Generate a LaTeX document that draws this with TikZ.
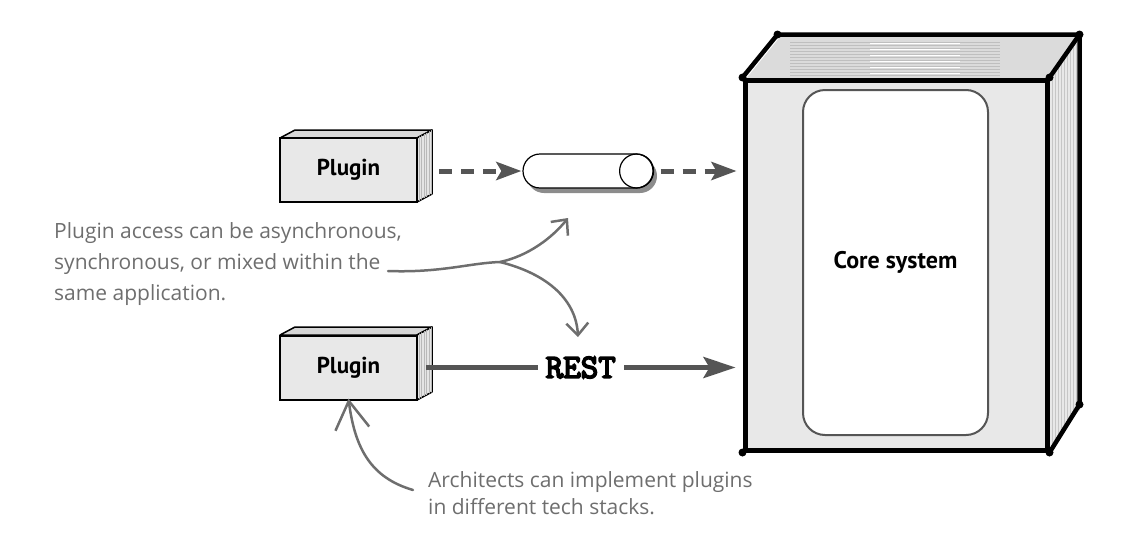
\documentclass[tikz,border=0pt]{standalone}
\usepackage{fontspec}
\setmainfont{Open Sans}
\newfontfamily\plugfont{PT Sans}
\newfontfamily\restfont{Latin Modern Mono}[FakeBold=5]
\usetikzlibrary{arrows.meta,shadows}
\definecolor{anncol}{HTML}{6E6E6E}
\definecolor{arrcol}{HTML}{555555}
\definecolor{facecol}{HTML}{E8E8E8}
\begin{document}
\begin{tikzpicture}[x=1pt,y=-1pt,
  plugbox/.style={draw=black, line width=2pt, fill=facecol, minimum width=137pt, minimum height=64pt, inner sep=0pt,
    font=\plugfont\bfseries\fontsize{23}{26}\selectfont},
  topface/.style={draw=black, line width=1.5pt, fill=gray!32, line join=round},
  sideface/.style={draw=black, line width=1.5pt, fill=gray!20, line join=round},
  dasharrow/.style={draw=arrcol, line width=5pt, dash pattern=on 13pt off 9pt,
    -{Stealth[length=25pt,width=18pt,inset=5pt]}},
  restline/.style={draw=arrcol, line width=5pt, -{Stealth[length=32pt,width=21pt,inset=6pt]}},
  pipebox/.style={draw=black, line width=1.2pt, fill=white, minimum width=130pt, minimum height=34pt, inner sep=0pt,
    rounded corners=17pt, drop shadow={shadow xshift=4pt, shadow yshift=-5pt, opacity=0.45, fill=black}},
  coreface/.style={draw=black, line width=5pt, fill=facecol, minimum width=302pt, minimum height=370pt, inner sep=0pt},
  coreedge/.style={draw=black, line width=4.5pt, line join=round, line cap=round},
  innerbox/.style={draw=arrcol, line width=2pt, fill=white, rounded corners=22pt, minimum width=185pt, minimum height=345pt,
    inner sep=0pt, font=\plugfont\bfseries\fontsize{24}{26}\selectfont},
  anntext/.style={text=anncol, align=left, inner sep=0pt, font=\fontsize{21}{31}\selectfont},
  annline/.style={draw=anncol, line width=2.5pt, line cap=round},
  annarrow/.style={annline, -{Straight Barb[length=12pt,width=22pt,line width=2.5pt]}},
  bigbarb/.style={annline, -{Straight Barb[length=28pt,width=34pt,line width=2.5pt]}},
  cornerdot/.style={fill=black, circle, inner sep=0pt, minimum size=8pt}
]
\useasboundingbox (0,0) rectangle (1132,549);

% ---------- plugin 1 ----------
\filldraw[topface] (280,138) -- ++(15,-8) -- ++(137,0) -- (417,138) -- cycle;
\filldraw[sideface] (417,138) -- ++(15,-8) -- ++(0,64) -- (417,202) -- cycle;
\begin{scope}
\clip (417,138) -- ++(15,-8) -- ++(0,64) -- (417,202) -- cycle;
\foreach \i in {419,421.5,...,432} \draw[gray!55, line width=0.5pt] (\i,120) -- (\i,205);
\end{scope}
\node[plugbox] (p1) at (348.5,170) {Plugin};

% ---------- plugin 2 ----------
\filldraw[topface] (280,335) -- ++(15,-8) -- ++(137,0) -- (417,335) -- cycle;
\filldraw[sideface] (417,335) -- ++(15,-8) -- ++(0,65) -- (417,400) -- cycle;
\begin{scope}
\clip (417,335) -- ++(15,-8) -- ++(0,65) -- (417,400) -- cycle;
\foreach \i in {419,421.5,...,432} \draw[gray!55, line width=0.5pt] (\i,320) -- (\i,405);
\end{scope}
\node[plugbox] (p2) at (348.5,367.5) {Plugin};

% ---------- pipe ----------
\node[pipebox] (pipe) at (588,171) {};
\draw[line width=1.2pt] ([xshift=-17pt]pipe.east) circle[radius=17];

% ---------- core system ----------
\filldraw[fill=gray!28, draw=none] (745,80) -- (780,37) -- (1082,37) -- (1047,80) -- cycle;
\begin{scope}
\clip (745,80) -- (780,37) -- (1082,37) -- (1047,80) -- cycle;
\foreach \j in {42,45,...,78} \draw[gray!50, line width=0.6pt] (790,\j) -- (1000,\j);
\foreach \j in {43.5,49.5,...,78} \draw[white, line width=0.8pt] (870,\j) -- (960,\j);
\end{scope}
\filldraw[fill=gray!18, draw=none] (1047,80) -- (1082,37) -- (1082,407) -- (1047,450) -- cycle;
\begin{scope}
\clip (1047,80) -- (1082,37) -- (1082,407) -- (1047,450) -- cycle;
\foreach \i in {1052,1055,...,1082} \draw[gray!45, line width=0.6pt] (\i,40) -- (\i,450);
\end{scope}
\node[coreface] (core) at (896,265) {};
\draw[coreedge] (core.north west) -- ++(35,-43) coordinate (btl) -- ++(302,0) coordinate (btr) -- (core.north east);
\draw[coreedge] (btr) -- ++(0,370) coordinate (bbr) -- (core.south east);
\foreach \c in {core.north west, core.north east, core.south west, core.south east, btl, btr, bbr}
  \node[cornerdot] at (\c) {};
\node[innerbox] (inner) at (895.5,262.5) {Core system};

% ---------- connectors ----------
\coordinate (s1) at ([xshift=21pt]p1.east);
\draw[dasharrow] (s1 |- pipe.west) -- ([xshift=-1pt]pipe.west);
\draw[dasharrow] ([xshift=7pt]pipe.east) -- ([xshift=-6pt]core.west |- pipe.east);
\coordinate (s2) at ([xshift=8pt]p2.east);
\draw[restline] (s2) -- node[fill=white, inner xsep=8pt, inner ysep=2pt, font=\restfont\fontsize{34}{35}\selectfont] (rest) {REST}
  ([xshift=-7pt]core.west |- s2);

% ---------- annotations ----------
\node[anntext, anchor=north west] (ann1) at (54,222)
  {Plugin access can be asynchronous,\\ synchronous, or mixed within the\\ same application.};
\coordinate (a1) at (388,271);
\coordinate (fork) at (500,262);
\coordinate (tipup) at (568,218);
\coordinate (tipdown) at (578,337);
\draw[annline] (a1) .. controls (440,273) and (470,263) .. (fork);
\draw[annarrow] (fork) .. controls (528,256) and (552,238) .. (tipup);
\draw[annarrow] (fork) .. controls (548,274) and (576,300) .. (tipdown);

\node[anntext, anchor=north west, font=\fontsize{21}{27}\selectfont] (ann2) at (428,471)
  {Architects can implement plugins\\ in different tech stacks.};
\coordinate (b1) at (413,490);
\draw[bigbarb] (b1) .. controls (372,478) and (355,450) .. ([yshift=2pt]p2.south);
\end{tikzpicture}
\end{document}
